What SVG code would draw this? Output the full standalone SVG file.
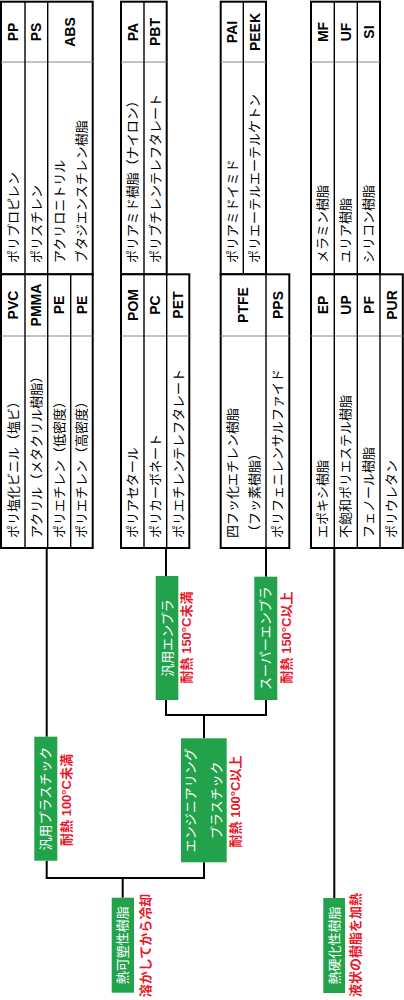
<svg xmlns="http://www.w3.org/2000/svg" width="404" height="1000" viewBox="0 0 404 1000">
<style>
.tb{fill:#fff;stroke:#000;stroke-width:2}
.rd{stroke:#000;stroke-width:1.4}
.cd{stroke:#8a8a8a;stroke-width:1}
.nm{font-family:"Noto Sans CJK JP","Liberation Sans",sans-serif;font-size:13px;fill:#000}
.ab{font-family:"Liberation Sans","Noto Sans CJK JP",sans-serif;font-size:14px;font-weight:bold;fill:#000;text-anchor:middle}
.bx{fill:#22a34b}
.bt{font-family:"Noto Sans CJK JP",sans-serif;font-size:13px;fill:#fff;text-anchor:middle}
.rt{font-family:"Liberation Sans","Noto Sans CJK JP",sans-serif;font-size:13px;font-weight:bold;fill:#e8192c;text-anchor:middle}
.cn{fill:none;stroke:#000;stroke-width:2}
</style>
<rect width="404" height="1000" fill="#fff"/>
<g transform="matrix(0,-1,1,0,0,1000)">
<g id="connectors">
<path class="cn" d="M452,46.7H263.3"/>
<path class="cn" d="M452,166H424"/>
<path class="cn" d="M452,266H423.3"/>
<path class="cn" d="M300,166H285V266H300M285,204H261.7"/>
<path class="cn" d="M139.3,46.7H122V204H137.7M122,122.7H102.3"/>
<path class="cn" d="M452,334.3H102"/>
</g>
<g id="table-pp">
<rect class="tb" x="725.7" y="1" width="272.6" height="91.7"/>
<line class="cd" x1="938" y1="1" x2="938" y2="92.7"/>
<line class="rd" x1="725.7" y1="25" x2="998.3" y2="25"/>
<line class="rd" x1="725.7" y1="47.7" x2="998.3" y2="47.7"/>
<text class="nm" x="737" y="17.6">ポリプロピレン</text>
<text class="ab" x="968" y="18">PP</text>
<text class="nm" x="737" y="40.9">ポリスチレン</text>
<text class="ab" x="968" y="41.3">PS</text>
<text class="nm" x="737" y="63.8">アクリロニトリル</text>
<text class="nm" x="737" y="86.3">ブタジエンスチレン樹脂</text>
<text class="ab" x="968" y="75.2">ABS</text>
</g>
<g id="table-pvc">
<rect class="tb" x="452" y="1" width="273.7" height="91.7"/>
<line class="cd" x1="664" y1="1" x2="664" y2="92.7"/>
<line class="rd" x1="452" y1="25" x2="725.7" y2="25"/>
<line class="rd" x1="452" y1="47.7" x2="725.7" y2="47.7"/>
<line class="rd" x1="452" y1="70.7" x2="725.7" y2="70.7"/>
<text class="nm" x="462" y="17.6">ポリ塩化ビニル（塩ビ）</text>
<text class="ab" x="695" y="18">PVC</text>
<text class="nm" x="462" y="40.9">アクリル（メタクリル樹脂）</text>
<text class="ab" x="695" y="41.3">PMMA</text>
<text class="nm" x="462" y="63.8">ポリエチレン（低密度）</text>
<text class="ab" x="695" y="64.2">PE</text>
<text class="nm" x="462" y="86.3">ポリエチレン（高密度）</text>
<text class="ab" x="695" y="86.7">PE</text>
</g>
<g id="table-pa">
<rect class="tb" x="725.7" y="121" width="272.6" height="45.7"/>
<line class="cd" x1="938" y1="121" x2="938" y2="166.7"/>
<line class="rd" x1="725.7" y1="144" x2="998.3" y2="144"/>
<text class="nm" x="737" y="137.1">ポリアミド樹脂（ナイロン）</text>
<text class="ab" x="968" y="137.5">PA</text>
<text class="nm" x="737" y="159.9">ポリブチレンテレフタレート</text>
<text class="ab" x="968" y="160.3">PBT</text>
</g>
<g id="table-pom">
<rect class="tb" x="452" y="121" width="273.7" height="68.3"/>
<line class="cd" x1="664" y1="121" x2="664" y2="189.3"/>
<line class="rd" x1="452" y1="144" x2="725.7" y2="144"/>
<line class="rd" x1="452" y1="166.7" x2="725.7" y2="166.7"/>
<text class="nm" x="462" y="137.1">ポリアセタール</text>
<text class="ab" x="695" y="137.5">POM</text>
<text class="nm" x="462" y="159.9">ポリカーボネート</text>
<text class="ab" x="695" y="160.3">PC</text>
<text class="nm" x="462" y="182.6">ポリエチレンテレフタレート</text>
<text class="ab" x="695" y="183">PET</text>
</g>
<g id="table-pai">
<rect class="tb" x="725.7" y="220.7" width="272.6" height="45.3"/>
<line class="cd" x1="938" y1="220.7" x2="938" y2="266"/>
<line class="rd" x1="725.7" y1="243.3" x2="998.3" y2="243.3"/>
<text class="nm" x="737" y="236.6">ポリアミドイミド</text>
<text class="ab" x="968" y="237">PAI</text>
<text class="nm" x="737" y="259.3">ポリエーテルエーテルケトン</text>
<text class="ab" x="968" y="259.7">PEEK</text>
</g>
<g id="table-ptfe">
<rect class="tb" x="452" y="220.7" width="273.7" height="68.6"/>
<line class="cd" x1="664" y1="220.7" x2="664" y2="289.3"/>
<line class="rd" x1="452" y1="266" x2="725.7" y2="266"/>
<text class="nm" x="462" y="236.6">四フッ化エチレン樹脂</text>
<text class="nm" x="462" y="259.3">（フッ素樹脂）</text>
<text class="ab" x="695" y="248.3">PTFE</text>
<text class="nm" x="462" y="282.3">ポリフェニレンサルファイド</text>
<text class="ab" x="695" y="282.7">PPS</text>
</g>
<g id="table-mf">
<rect class="tb" x="725.7" y="311" width="272.6" height="69"/>
<line class="cd" x1="938" y1="311" x2="938" y2="380"/>
<line class="rd" x1="725.7" y1="334.3" x2="998.3" y2="334.3"/>
<line class="rd" x1="725.7" y1="357.3" x2="998.3" y2="357.3"/>
<text class="nm" x="737" y="327.3">メラミン樹脂</text>
<text class="ab" x="968" y="327.7">MF</text>
<text class="nm" x="737" y="350.4">ユリア樹脂</text>
<text class="ab" x="968" y="350.8">UF</text>
<text class="nm" x="737" y="373.3">シリコン樹脂</text>
<text class="ab" x="968" y="373.7">SI</text>
</g>
<g id="table-ep">
<rect class="tb" x="452" y="311" width="273.7" height="91.8"/>
<line class="cd" x1="664" y1="311" x2="664" y2="402.8"/>
<line class="rd" x1="452" y1="334.3" x2="725.7" y2="334.3"/>
<line class="rd" x1="452" y1="357.3" x2="725.7" y2="357.3"/>
<line class="rd" x1="452" y1="380" x2="725.7" y2="380"/>
<text class="nm" x="462" y="327.3">エポキシ樹脂</text>
<text class="ab" x="695" y="327.7">EP</text>
<text class="nm" x="462" y="350.4">不飽和ポリエステル樹脂</text>
<text class="ab" x="695" y="350.8">UP</text>
<text class="nm" x="462" y="373.3">フェノール樹脂</text>
<text class="ab" x="695" y="373.7">PF</text>
<text class="nm" x="462" y="396.3">ポリウレタン</text>
<text class="ab" x="695" y="396.7">PUR</text>
</g>
<g id="general-plastic">
<rect class="bx" x="139.3" y="34.3" width="124" height="23"/>
<text class="bt" x="201.3" y="50.4">汎用プラスチック</text>
<text class="rt" x="200" y="70.9">耐熱 100°C未満</text>
</g>
<g id="engineering-plastic">
<rect class="bx" x="137.7" y="181" width="124" height="45.7"/>
<text class="bt" x="199.7" y="195.1">エンジニアリング</text>
<text class="bt" x="199.7" y="221.1">プラスチック</text>
<text class="rt" x="198.5" y="239.9">耐熱 100°C以上</text>
</g>
<g id="general-enpla">
<rect class="bx" x="300" y="155.7" width="124" height="22.6"/>
<text class="bt" x="362" y="171.6">汎用エンプラ</text>
<text class="rt" x="362.5" y="191.3">耐熱 150°C未満</text>
</g>
<g id="super-enpla">
<rect class="bx" x="300" y="254.3" width="123.3" height="23"/>
<text class="bt" x="361.7" y="270.4">スーパーエンプラ</text>
<text class="rt" x="362.5" y="290.9">耐熱 150°C以上</text>
</g>
<g id="thermoplastic">
<rect class="bx" x="7.3" y="111.7" width="95" height="22.3"/>
<text class="bt" x="54.8" y="127.4">熱可塑性樹脂</text>
<text class="rt" x="54.5" y="149.6">溶かしてから冷却</text>
</g>
<g id="thermoset">
<rect class="bx" x="7" y="323.3" width="95" height="21.7"/>
<text class="bt" x="54.5" y="338.8">熱硬化性樹脂</text>
<text class="rt" x="55" y="359.8">液状の樹脂を加熱</text>
</g>
</g>
</svg>
